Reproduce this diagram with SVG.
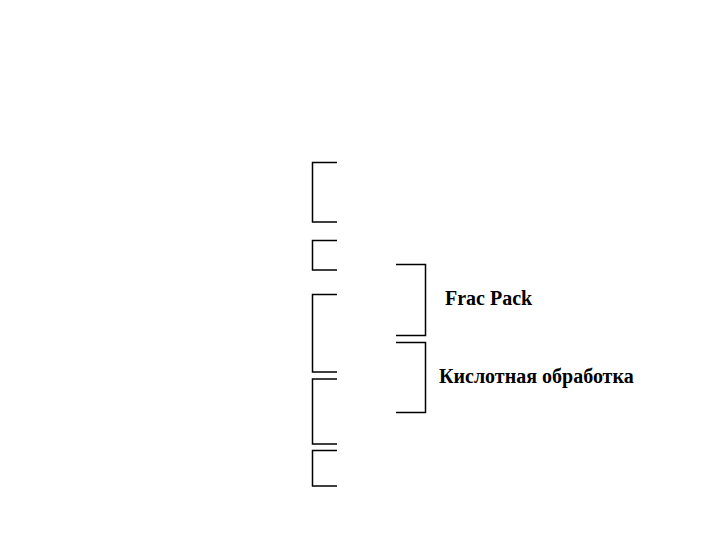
<svg xmlns="http://www.w3.org/2000/svg" width="720" height="540" viewBox="0 0 720 540">
<style>
.br{fill:none;stroke:#000;stroke-width:1.5}
.t{font-family:"Liberation Serif","Times New Roman",serif;font-weight:bold;font-size:20px;fill:#000}
</style>
<rect width="720" height="540" fill="#fff"/>
<g id="connectors">
<path class="br" d="M337,162.5 H312.5 V222 H337"/>
<path class="br" d="M337,240.5 H312.5 V270 H337"/>
<path class="br" d="M337,294.5 H312.5 V372 H337"/>
<path class="br" d="M337,379 H312.5 V444 H337"/>
<path class="br" d="M337,450.5 H312.5 V486 H337"/>
<path class="br" d="M396,264.5 H425.5 V335.5 H396"/>
<path class="br" d="M396,342.5 H425.5 V412.5 H396"/>
</g>
<g id="frac"><text class="t" x="445" y="305">Frac Pack</text></g>
<g id="acid"><text class="t" x="439" y="383">Кислотная обработка</text></g>
</svg>
